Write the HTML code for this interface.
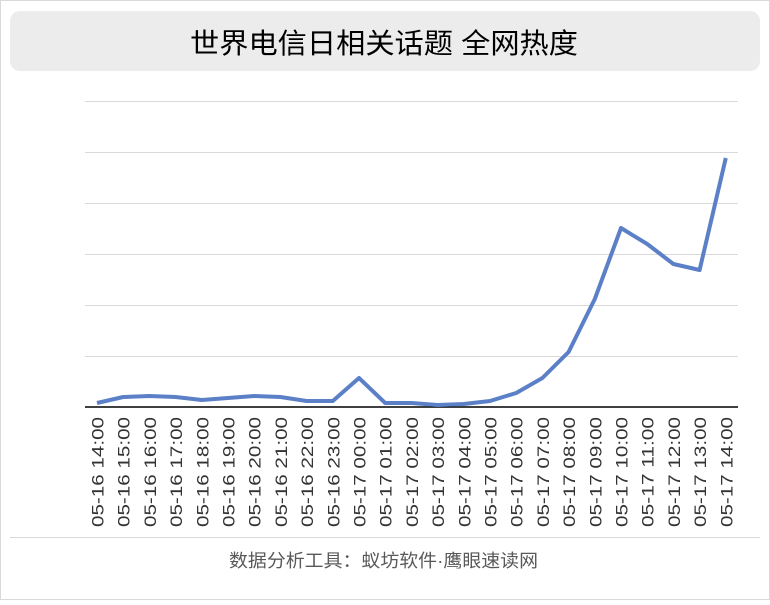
<!DOCTYPE html>
<html><head><meta charset="utf-8"><style>
body{margin:0;background:#fff}
</style></head><body>
<svg width="770" height="600" xmlns="http://www.w3.org/2000/svg" font-family="Liberation Sans, Noto Sans CJK SC, sans-serif">
<rect x="0.5" y="0.5" width="769" height="599" fill="#fff" stroke="#d9d9d9"/>
<rect x="10" y="11" width="750" height="60" rx="10" fill="#ececec"/>
<text x="190" y="53" font-size="28" fill="#000" textLength="388" lengthAdjust="spacingAndGlyphs">世界电信日相关话题 全网热度</text>
<g stroke="#d9d9d9" stroke-width="1">
<line x1="85" x2="738" y1="101.5" y2="101.5"/>
<line x1="85" x2="738" y1="152.5" y2="152.5"/>
<line x1="85" x2="738" y1="203.5" y2="203.5"/>
<line x1="85" x2="738" y1="254.5" y2="254.5"/>
<line x1="85" x2="738" y1="305.5" y2="305.5"/>
<line x1="85" x2="738" y1="356.5" y2="356.5"/>
</g>
<line x1="85" x2="738" y1="407" y2="407" stroke="#000" stroke-width="1.5"/>
<polyline fill="none" stroke="#5b80c8" stroke-width="4" stroke-linejoin="round" points="97,403 123.2,397 149.4,396 175.6,397 201.8,400 228,398 254.2,396 280.4,397 306.6,401 332.8,401 359,378 385.2,403 411.4,403 437.6,405 463.8,404 490,401 516.2,393 542.4,378 568.6,352 594.8,299 621,228 647.2,244 673.4,264 699.6,270 725.8,158"/>
<g font-size="17" fill="#333" text-anchor="end">
<text transform="translate(103.5,417) rotate(-90)" textLength="110" lengthAdjust="spacingAndGlyphs">05-16 14:00</text>
<text transform="translate(129.7,417) rotate(-90)" textLength="110" lengthAdjust="spacingAndGlyphs">05-16 15:00</text>
<text transform="translate(155.9,417) rotate(-90)" textLength="110" lengthAdjust="spacingAndGlyphs">05-16 16:00</text>
<text transform="translate(182.1,417) rotate(-90)" textLength="110" lengthAdjust="spacingAndGlyphs">05-16 17:00</text>
<text transform="translate(208.3,417) rotate(-90)" textLength="110" lengthAdjust="spacingAndGlyphs">05-16 18:00</text>
<text transform="translate(234.5,417) rotate(-90)" textLength="110" lengthAdjust="spacingAndGlyphs">05-16 19:00</text>
<text transform="translate(260.7,417) rotate(-90)" textLength="110" lengthAdjust="spacingAndGlyphs">05-16 20:00</text>
<text transform="translate(286.9,417) rotate(-90)" textLength="110" lengthAdjust="spacingAndGlyphs">05-16 21:00</text>
<text transform="translate(313.1,417) rotate(-90)" textLength="110" lengthAdjust="spacingAndGlyphs">05-16 22:00</text>
<text transform="translate(339.3,417) rotate(-90)" textLength="110" lengthAdjust="spacingAndGlyphs">05-16 23:00</text>
<text transform="translate(365.5,417) rotate(-90)" textLength="110" lengthAdjust="spacingAndGlyphs">05-17 00:00</text>
<text transform="translate(391.7,417) rotate(-90)" textLength="110" lengthAdjust="spacingAndGlyphs">05-17 01:00</text>
<text transform="translate(417.9,417) rotate(-90)" textLength="110" lengthAdjust="spacingAndGlyphs">05-17 02:00</text>
<text transform="translate(444.1,417) rotate(-90)" textLength="110" lengthAdjust="spacingAndGlyphs">05-17 03:00</text>
<text transform="translate(470.3,417) rotate(-90)" textLength="110" lengthAdjust="spacingAndGlyphs">05-17 04:00</text>
<text transform="translate(496.5,417) rotate(-90)" textLength="110" lengthAdjust="spacingAndGlyphs">05-17 05:00</text>
<text transform="translate(522.7,417) rotate(-90)" textLength="110" lengthAdjust="spacingAndGlyphs">05-17 06:00</text>
<text transform="translate(548.9,417) rotate(-90)" textLength="110" lengthAdjust="spacingAndGlyphs">05-17 07:00</text>
<text transform="translate(575.1,417) rotate(-90)" textLength="110" lengthAdjust="spacingAndGlyphs">05-17 08:00</text>
<text transform="translate(601.3,417) rotate(-90)" textLength="110" lengthAdjust="spacingAndGlyphs">05-17 09:00</text>
<text transform="translate(627.5,417) rotate(-90)" textLength="110" lengthAdjust="spacingAndGlyphs">05-17 10:00</text>
<text transform="translate(653.7,417) rotate(-90)" textLength="110" lengthAdjust="spacingAndGlyphs">05-17 11:00</text>
<text transform="translate(679.9,417) rotate(-90)" textLength="110" lengthAdjust="spacingAndGlyphs">05-17 12:00</text>
<text transform="translate(706.1,417) rotate(-90)" textLength="110" lengthAdjust="spacingAndGlyphs">05-17 13:00</text>
<text transform="translate(732.3,417) rotate(-90)" textLength="110" lengthAdjust="spacingAndGlyphs">05-17 14:00</text>
</g>
<line x1="10" x2="760" y1="537.5" y2="537.5" stroke="#d9d9d9"/>
<text x="229" y="567" font-size="18" fill="#595959" textLength="309" lengthAdjust="spacingAndGlyphs">数据分析工具：蚁坊软件·鹰眼速读网</text>
</svg>
</body></html>
